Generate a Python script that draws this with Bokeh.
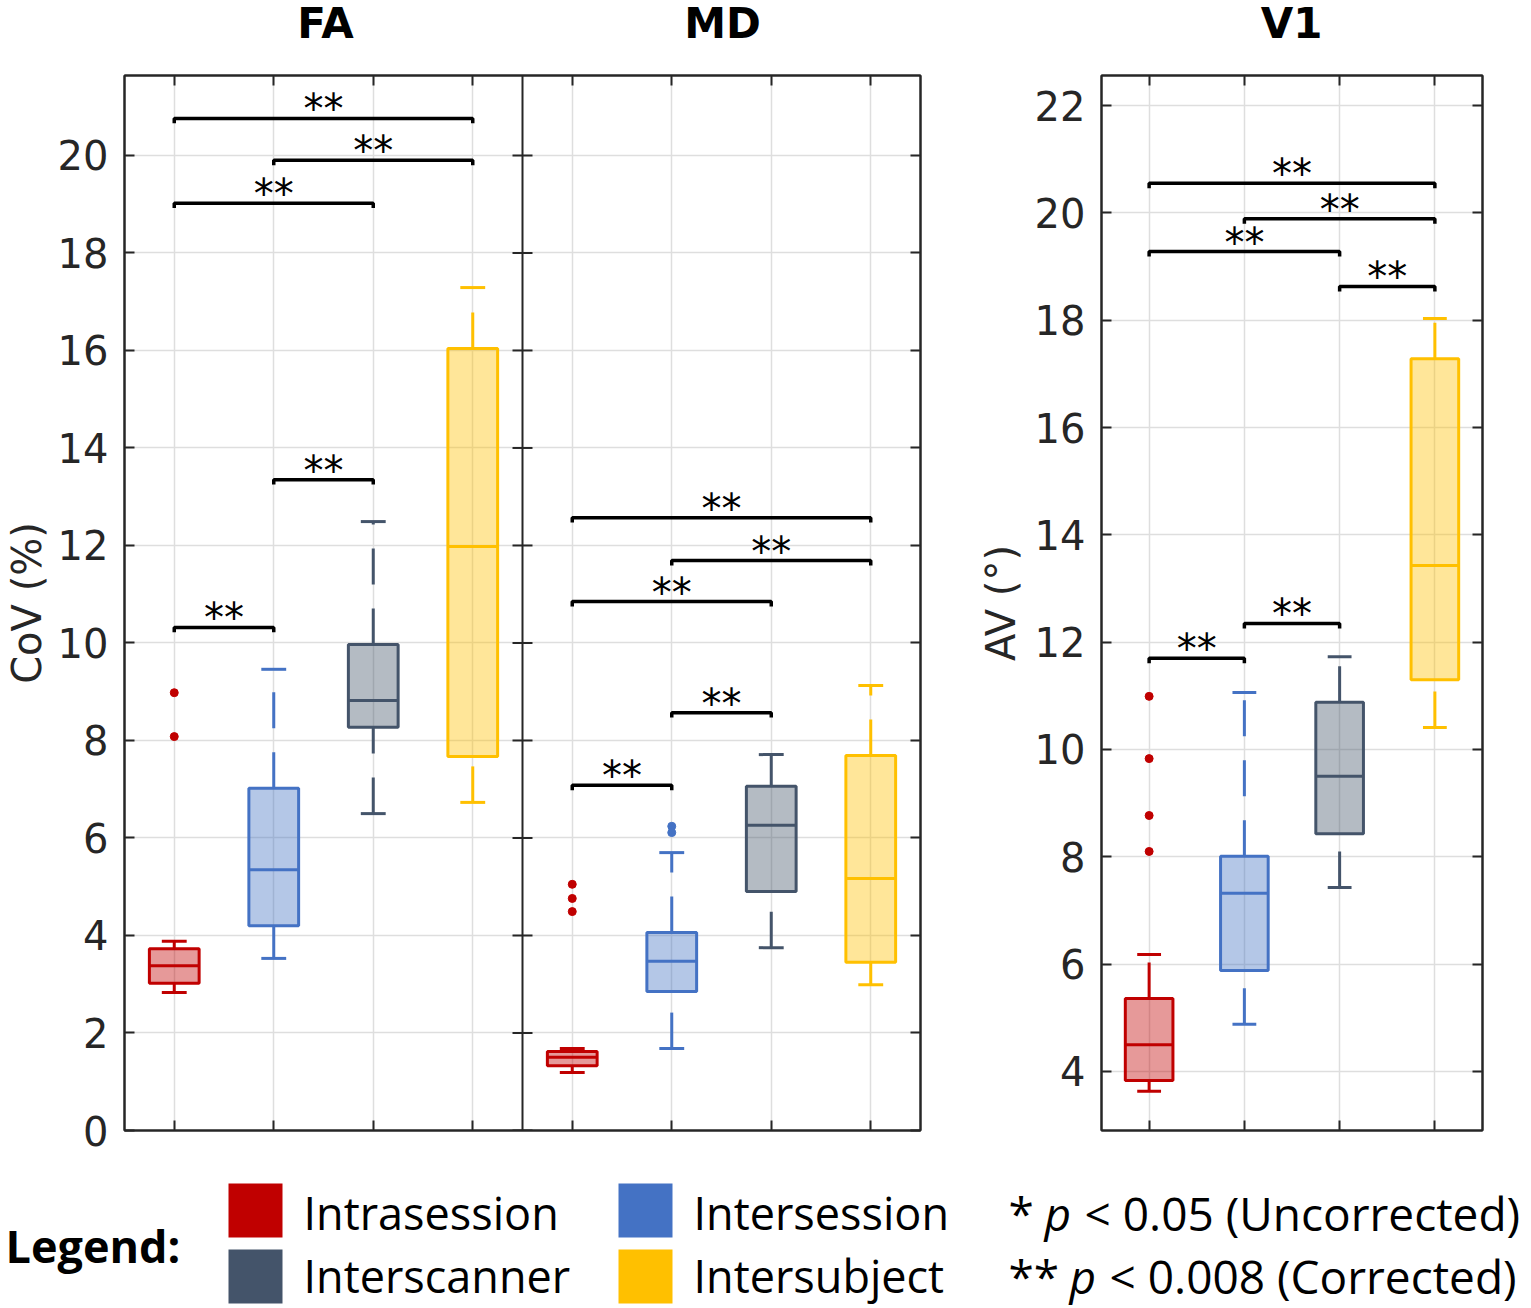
from bokeh.plotting import figure
from bokeh.models import Range1d, LinearAxis, FixedTicker, Span
from bokeh.layouts import column, row
from bokeh.embed import file_html
from bokeh.resources import INLINE
from bokeh.core.properties import value

# ---------------- data ----------------
categories = ["Intrasession", "Intersession", "Interscanner", "Intersubject"]
colors = ["#C00000", "#4472C4", "#44546A", "#FFC000"]
panel_titles = ["FA", "MD", "V1"]

# FA (CoV %)
fa_lower = [2.83, 3.53, 6.50, 6.73]
fa_q1 = [3.02, 4.20, 8.27, 7.67]
fa_median = [3.38, 5.35, 8.82, 11.98]
fa_q3 = [3.73, 7.02, 9.97, 16.04]
fa_upper = [3.88, 9.46, 12.49, 17.29]
fa_out_group = [1, 1]
fa_out_value = [8.98, 8.08]
fa_sig_from = [1, 2, 1, 2, 1]
fa_sig_to = [4, 4, 3, 3, 2]
fa_sig_y = [20.76, 19.90, 19.02, 13.35, 10.32]
fa_sig_text = ["**", "**", "**", "**", "**"]

# MD (CoV %)
md_lower = [1.19, 1.68, 3.75, 2.99]
md_q1 = [1.33, 2.85, 4.90, 3.45]
md_median = [1.50, 3.47, 6.26, 5.17]
md_q3 = [1.62, 4.06, 7.06, 7.69]
md_upper = [1.68, 5.70, 7.71, 9.13]
md_out_group = [1, 1, 1, 2, 2]
md_out_value = [5.05, 4.76, 4.49, 6.24, 6.11]
md_sig_from = [1, 2, 1, 2, 1]
md_sig_to = [4, 4, 3, 3, 2]
md_sig_y = [12.57, 11.69, 10.85, 8.57, 7.08]
md_sig_text = ["**", "**", "**", "**", "**"]

# V1 (AV degrees)
v1_lower = [3.63, 4.88, 7.43, 10.41]
v1_q1 = [3.83, 5.88, 8.43, 11.30]
v1_median = [4.50, 7.32, 9.50, 13.43]
v1_q3 = [5.36, 8.01, 10.88, 17.28]
v1_upper = [6.18, 11.06, 11.73, 18.03]
v1_out_group = [1, 1, 1, 1]
v1_out_value = [10.99, 9.83, 8.77, 8.10]
v1_sig_from = [1, 2, 1, 3, 2, 1]
v1_sig_to = [4, 4, 3, 4, 3, 2]
v1_sig_y = [20.55, 19.89, 19.28, 18.63, 12.35, 11.70]
v1_sig_text = ["**", "**", "**", "**", "**", "**"]

cov_ticks = [0, 2, 4, 6, 8, 10, 12, 14, 16, 18, 20]
av_ticks = [4, 6, 8, 10, 12, 14, 16, 18, 20, 22]

sig_marks = ["*", "**"]
sig_rest = ["< 0.05 (Uncorrected)", "< 0.008 (Corrected)"]

AX = "#262626"
GRID = "#dedede"
TICK_FONT = "DejaVu Sans"


def style_axes(p, xticks, yticks, ylabel, label_standoff):
    bottom = p.below[0]
    left = p.left[0]
    top = LinearAxis()
    right = LinearAxis()
    p.add_layout(top, "above")
    p.add_layout(right, "right")
    bottom.ticker = FixedTicker(ticks=xticks)
    top.ticker = FixedTicker(ticks=xticks)
    left.ticker = FixedTicker(ticks=yticks)
    right.ticker = FixedTicker(ticks=yticks)
    for ax in (bottom, left, top, right):
        ax.axis_line_color = AX
        ax.axis_line_width = 2
        ax.major_tick_line_color = AX
        ax.major_tick_line_width = 2
        ax.major_tick_in = 10
        ax.major_tick_out = 0
        ax.minor_tick_line_color = None
        ax.minor_tick_in = 0
        ax.minor_tick_out = 0
    for ax, ticks in ((bottom, xticks), (top, xticks), (right, yticks)):
        ax.major_label_overrides = {t: "" for t in ticks}
        ax.major_label_standoff = 0
    left.major_label_text_font = TICK_FONT
    left.major_label_text_font_size = "40px"
    left.major_label_text_color = AX
    left.major_label_standoff = 16
    left.axis_label = ylabel
    left.axis_label_text_font = TICK_FONT
    left.axis_label_text_font_size = "40px"
    left.axis_label_text_font_style = "normal"
    left.axis_label_text_color = AX
    left.axis_label_standoff = label_standoff
    p.xgrid.grid_line_color = GRID
    p.xgrid.grid_line_width = 1.5
    p.ygrid.grid_line_color = GRID
    p.ygrid.grid_line_width = 1.5
    p.outline_line_color = AX
    p.outline_line_width = 2


def draw_boxes(p, offset, lower, q1, med, q3, upper, og, ov):
    pos = [i + 1 + offset for i in range(len(lower))]
    hw, cw = 0.25, 0.125
    p.quad(left=[x - hw for x in pos], right=[x + hw for x in pos], bottom=q1, top=q3,
           fill_color=colors, fill_alpha=0.4, line_color=colors, line_width=3)
    p.segment(x0=[x - hw for x in pos], x1=[x + hw for x in pos], y0=med, y1=med,
              line_color=colors, line_width=3)
    p.segment(x0=pos, x1=pos, y0=lower, y1=q1, line_color=colors, line_width=3,
              line_dash="36 24")
    p.segment(x0=pos, x1=pos, y0=q3, y1=upper, line_color=colors, line_width=3,
              line_dash="36 24")
    p.segment(x0=[x - cw for x in pos], x1=[x + cw for x in pos], y0=lower, y1=lower,
              line_color=colors, line_width=3)
    p.segment(x0=[x - cw for x in pos], x1=[x + cw for x in pos], y0=upper, y1=upper,
              line_color=colors, line_width=3)
    p.scatter(x=[g + offset for g in og], y=ov, size=8,
              color=[colors[g - 1] for g in og])


def draw_sig(p, offset, s_from, s_to, s_y, s_text, stub):
    xs = [[a + offset, a + offset, b + offset, b + offset] for a, b in zip(s_from, s_to)]
    ys = [[y - stub, y, y, y - stub] for y in s_y]
    p.multi_line(xs=xs, ys=ys, line_color="black", line_width=3.5)
    p.text(x=[(a + b) / 2 + offset for a, b in zip(s_from, s_to)], y=s_y, text=s_text,
           text_align="center", text_baseline="alphabetic", y_offset=-9,
           text_font=value(TICK_FONT), text_font_size="40px", text_color="black")


# --------- title strip ---------
head = figure(width=1530, height=55, x_range=Range1d(0, 1530), y_range=Range1d(55, 0),
              toolbar_location=None, output_backend="svg", min_border=0,
              x_axis_type=None, y_axis_type=None)
head.grid.visible = False
head.outline_line_color = None
head.text(x=[325, 722, 1291], y=[23, 23, 23], text=panel_titles, text_align="center",
          text_baseline="middle", text_font=value("DejaVu Sans"), text_font_style="bold",
          text_font_size="42px", text_color="black")

# --------- FA + MD figure ---------
p1 = figure(width=950, height=1103, x_range=Range1d(0.5, 8.5), y_range=Range1d(0, 21.64),
            toolbar_location=None, output_backend="svg",
            min_border_left=124, min_border_right=30, min_border_top=20, min_border_bottom=28)
style_axes(p1, [1, 2, 3, 4, 5, 6, 7, 8], cov_ticks, "CoV (%)", 5)
p1.add_layout(Span(location=4.5, dimension="height", line_color=AX, line_width=2))
p1.ray(x=[4.5] * len(cov_ticks), y=cov_ticks, length=10, length_units="screen", angle=0,
       line_color=AX, line_width=2)
p1.ray(x=[4.5] * len(cov_ticks), y=cov_ticks, length=10, length_units="screen",
       angle=3.14159265, line_color=AX, line_width=2)
draw_boxes(p1, 0, fa_lower, fa_q1, fa_median, fa_q3, fa_upper, fa_out_group, fa_out_value)
draw_boxes(p1, 4, md_lower, md_q1, md_median, md_q3, md_upper, md_out_group, md_out_value)
draw_sig(p1, 0, fa_sig_from, fa_sig_to, fa_sig_y, fa_sig_text, 0.1)
draw_sig(p1, 4, md_sig_from, md_sig_to, md_sig_y, md_sig_text, 0.1)

# --------- V1 figure ---------
p2 = figure(width=572, height=1103, x_range=Range1d(0.5, 4.5), y_range=Range1d(2.9, 22.56),
            toolbar_location=None, output_backend="svg",
            min_border_left=151, min_border_right=40, min_border_top=20, min_border_bottom=28)
style_axes(p2, [1, 2, 3, 4], av_ticks, "AV (°)", 8)
draw_boxes(p2, 0, v1_lower, v1_q1, v1_median, v1_q3, v1_upper, v1_out_group, v1_out_value)
draw_sig(p2, 0, v1_sig_from, v1_sig_to, v1_sig_y, v1_sig_text, 0.093)

# --------- legend figure ---------
leg = figure(width=1530, height=150, x_range=Range1d(0, 1530), y_range=Range1d(1308, 1158),
             toolbar_location=None, output_backend="svg", min_border=0,
             x_axis_type=None, y_axis_type=None)
leg.grid.visible = False
leg.outline_line_color = None
sw_left = [228, 618, 228, 618]
sw_top = [1183, 1183, 1249, 1249]
leg.quad(left=sw_left, right=[x + 54 for x in sw_left], top=sw_top,
         bottom=[y + 54 for y in sw_top], fill_color=colors, line_color=None)
leg.text(x=[x + 75 for x in sw_left], y=[1212, 1212, 1275, 1275], text=categories,
         text_align="left", text_baseline="middle", text_font=value("Open Sans"),
         text_font_size="45px", text_color="black")
leg.text(x=[5], y=[1245], text=["Legend:"], text_align="left", text_baseline="middle",
         text_font=value("Open Sans"), text_font_style="bold", text_font_size="45px",
         text_color="black")
row_y = [1212, 1275]
leg.text(x=[1008, 1008], y=row_y, text=sig_marks, text_align="left", text_baseline="middle",
         text_font=value("Open Sans"), text_font_size="46px", text_color="black")
leg.text(x=[1044, 1069], y=row_y, text=["p", "p"], text_align="left", text_baseline="middle",
         text_font=value("Open Sans"), text_font_style="italic", text_font_size="46px",
         text_color="black")
leg.text(x=[1084, 1109], y=row_y, text=sig_rest, text_align="left", text_baseline="middle",
         text_font=value("Open Sans"), text_font_size="46px", text_color="black")

layout = column(head, row(p1, p2), leg)
open("out.html", "w").write(file_html(layout, INLINE))
